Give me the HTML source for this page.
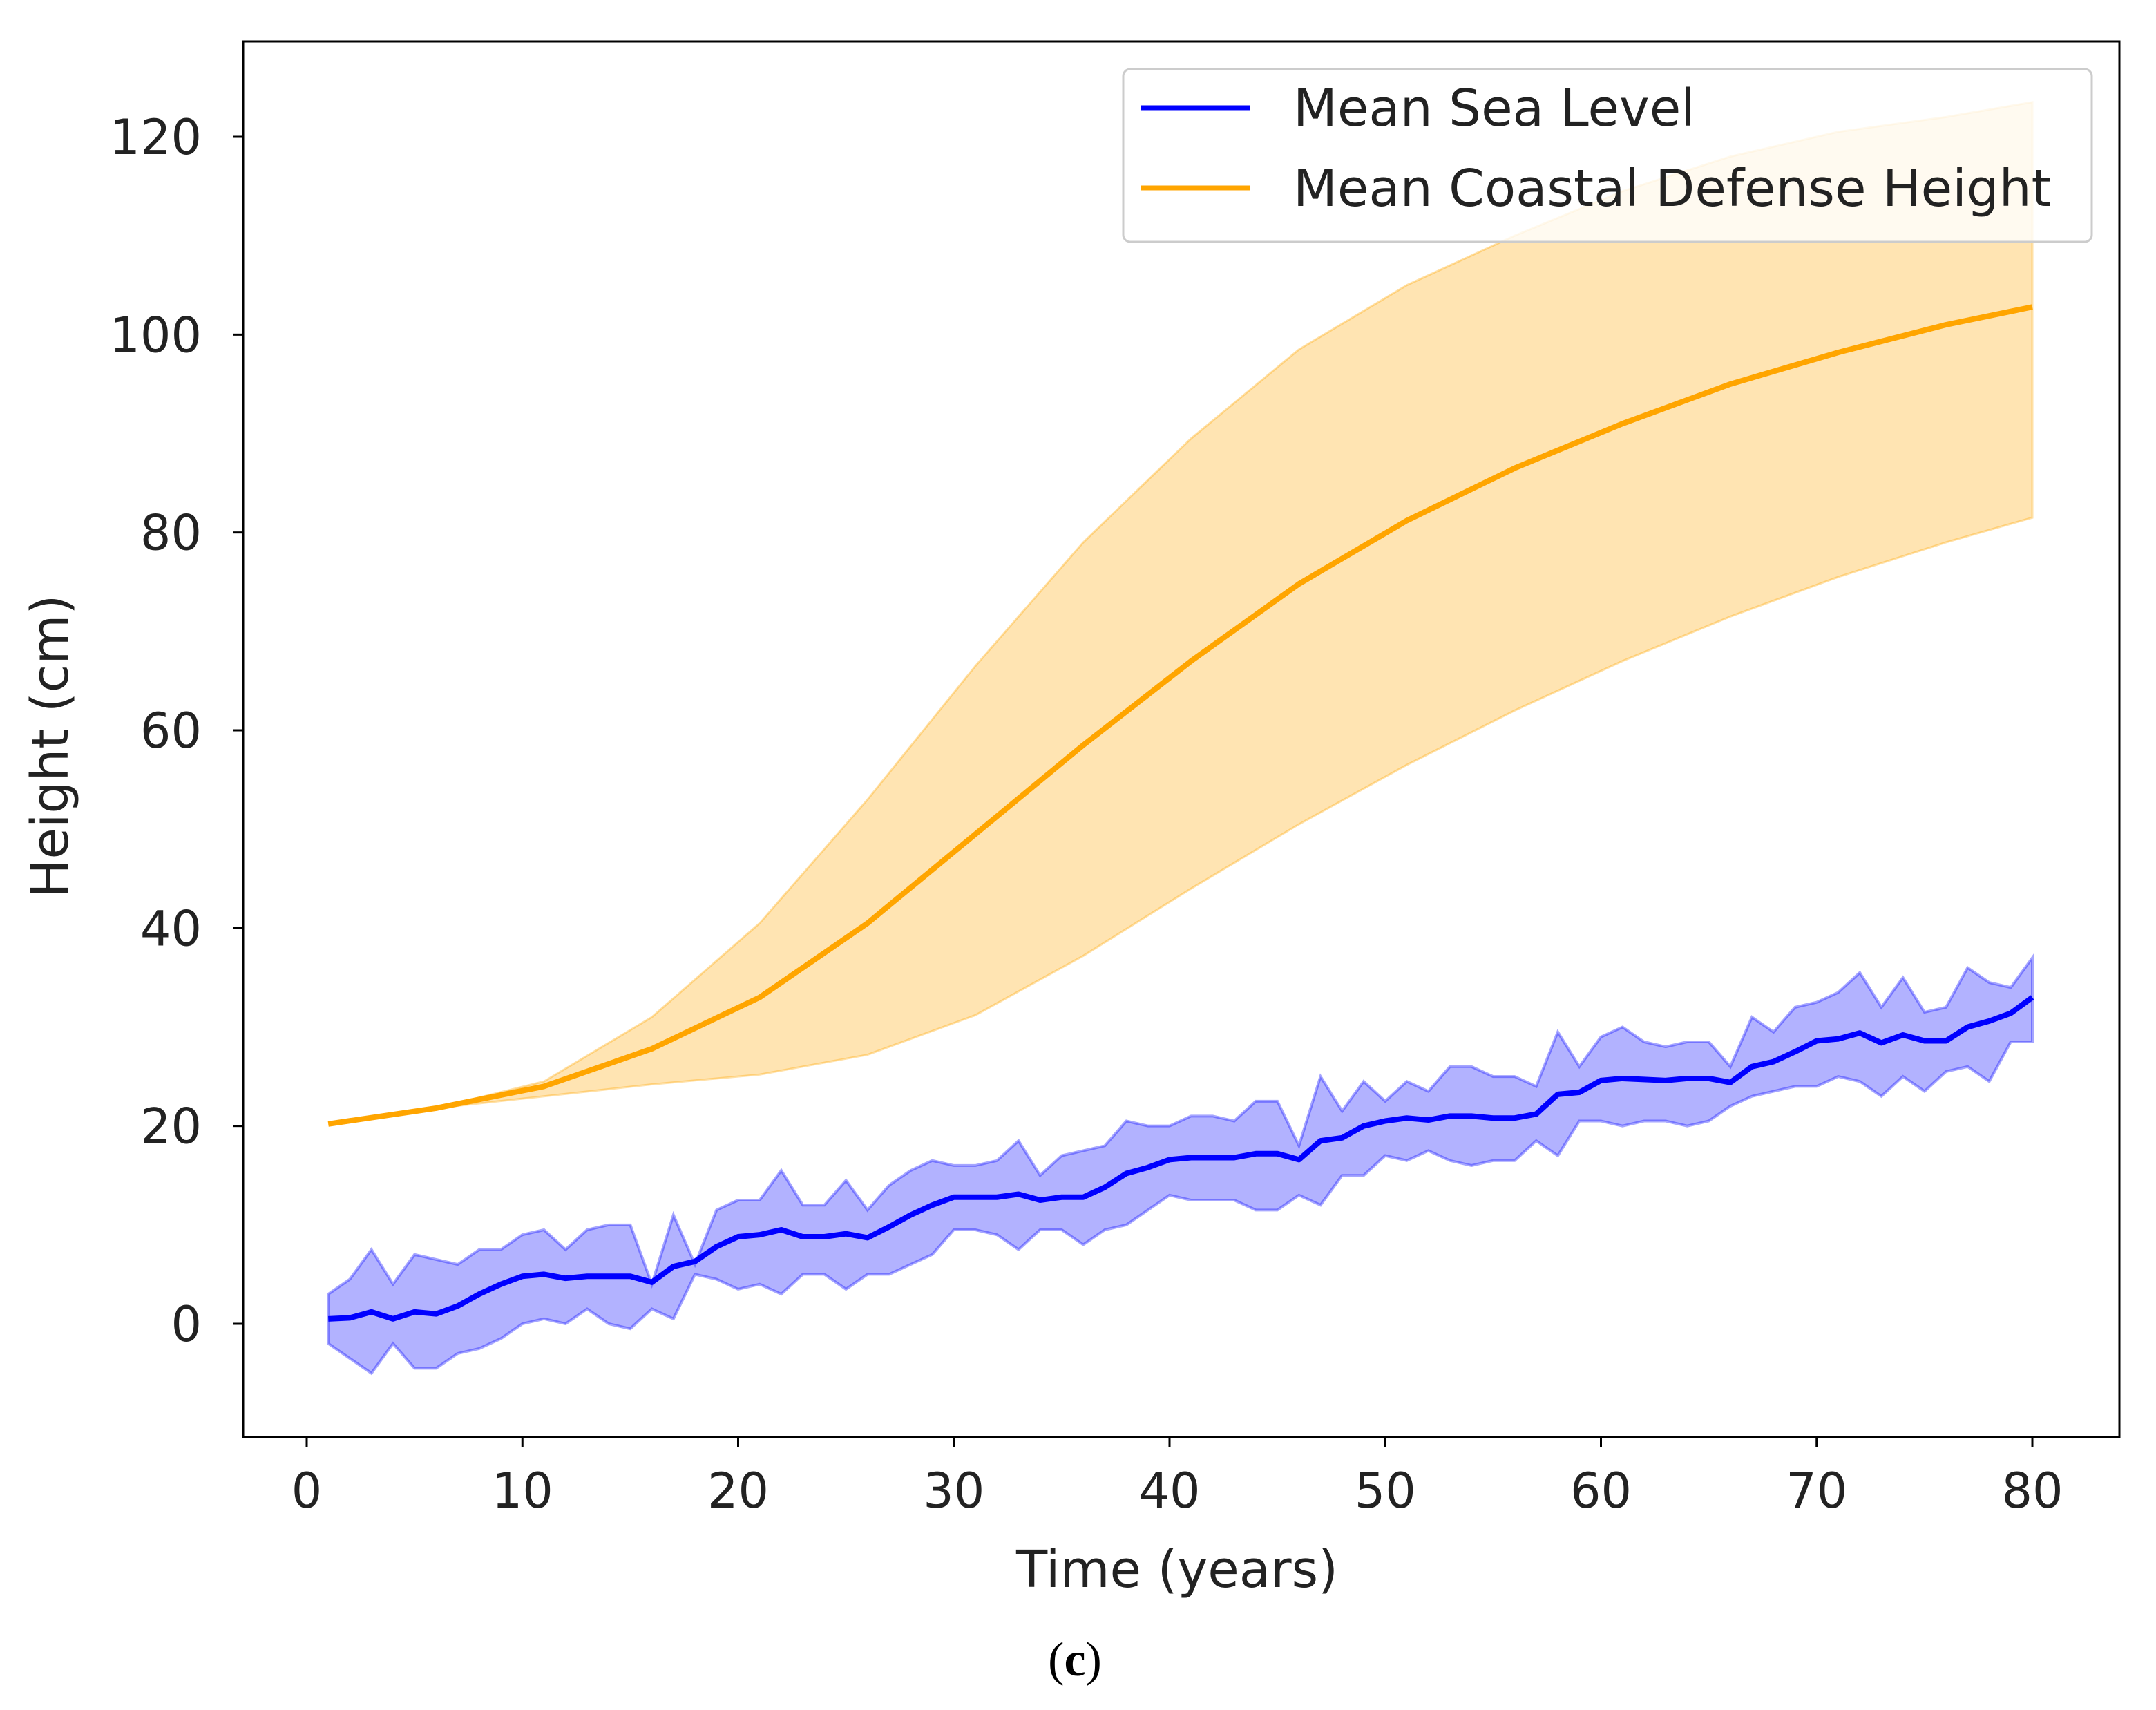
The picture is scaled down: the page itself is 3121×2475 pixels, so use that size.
<!DOCTYPE html>
<html><head><meta charset="utf-8"><style>
html,body{margin:0;padding:0;background:#fff;}
svg{display:block;font-family:"DejaVu Sans","Liberation Sans",sans-serif;}
</style></head><body>
<svg id="chart" width="3121" height="2475" viewBox="0 0 3121 2475" xmlns="http://www.w3.org/2000/svg">
<g id="bands"></g>
<g id="lines"></g>
<rect x="352" y="60" width="2716" height="2020" fill="none" stroke="#000" stroke-width="3"/>
<g id="xticks"></g>
<g id="yticks"></g>
<text x="1704" y="2297" font-size="74" text-anchor="middle" fill="#222">Time (years)</text>
<text x="98" y="1080" font-size="74" text-anchor="middle" fill="#222" transform="rotate(-90 98 1080)">Height (cm)</text>
<text x="1556" y="2425" font-size="70" text-anchor="middle" font-family="Liberation Serif, serif" fill="#000">(<tspan font-weight="bold">c</tspan>)</text>
<g>
<rect x="1626" y="100" width="1402" height="250" rx="10" fill="#fff" fill-opacity="0.8" stroke="#ccc" stroke-width="3"/>
<line x1="1652" y1="156" x2="1810" y2="156" stroke="#0000ff" stroke-width="7"/>
<text x="1872" y="182" font-size="74" fill="#222">Mean Sea Level</text>
<line x1="1652" y1="272" x2="1810" y2="272" stroke="#ffa500" stroke-width="7"/>
<text x="1872" y="298" font-size="74" fill="#222">Mean Coastal Defense Height</text>
</g>
</svg>
<script>
const seaMean=[0.5,0.6,1.2,0.5,1.2,1.0,1.8,3,4,4.8,5,4.6,4.8,4.8,4.8,4.2,5.8,6.3,7.8,8.8,9,9.5,8.8,8.8,9.1,8.7,9.8,11,12,12.8,12.8,12.8,13.1,12.5,12.8,12.8,13.8,15.2,15.8,16.6,16.8,16.8,16.8,17.2,17.2,16.6,18.5,18.8,20,20.5,20.8,20.6,21,21,20.8,20.8,21.2,23.2,23.4,24.6,24.8,24.7,24.6,24.8,24.8,24.4,26,26.5,27.5,28.6,28.8,29.4,28.4,29.2,28.6,28.6,30,30.6,31.4,33];
const seaUpper=[3,4.5,7.5,4,7,6.5,6,7.5,7.5,9,9.5,7.5,9.5,10,10,4,11,6,11.5,12.5,12.5,15.5,12,12,14.5,11.5,14,15.5,16.5,16,16,16.5,18.5,15,17,17.5,18,20.5,20,20,21,21,20.5,22.5,22.5,18,25,21.5,24.5,22.5,24.5,23.5,26,26,25,25,24,29.5,26,29,30,28.5,28,28.5,28.5,26,31,29.5,32,32.5,33.5,35.5,32,35,31.5,32,36,34.5,34,37];
const seaLower=[-2,-3.5,-5,-2,-4.5,-4.5,-3,-2.5,-1.5,0,0.5,0,1.5,0,-0.5,1.5,0.5,5,4.5,3.5,4,3,5,5,3.5,5,5,6,7,9.5,9.5,9,7.5,9.5,9.5,8,9.5,10,11.5,13,12.5,12.5,12.5,11.5,11.5,13,12,15,15,17,16.5,17.5,16.5,16,16.5,16.5,18.5,17,20.5,20.5,20,20.5,20.5,20,20.5,22,23,23.5,24,24,25,24.5,23,25,23.5,25.5,26,24.5,28.5,28.5];
const defYears=[1,6,11,16,21,26,31,36,41,46,51,56,61,66,71,76,80];
const defMean=[20.2,21.8,24,27.8,33,40.5,49.5,58.5,67,74.8,81.2,86.5,91,95,98.2,101,102.8];
const defUpper=[20.2,21.8,24.5,31,40.5,53,66.5,79,89.5,98.5,105,110,114.5,118,120.5,122,123.5];
const defLower=[20.2,21.8,23,24.2,25.2,27.2,31.2,37.2,44,50.5,56.5,62,67,71.5,75.5,79,81.5];
const xTicks=[0,10,20,30,40,50,60,70,80];
const yTicks=[0,20,40,60,80,100,120];

const NS="http://www.w3.org/2000/svg";
const X=v=>444+(2942-444)*v/80;
const Y=v=>1916-(1916-198)*v/120;
function mk(tag,attrs,parent){const e=document.createElementNS(NS,tag);for(const k in attrs)e.setAttribute(k,attrs[k]);parent.appendChild(e);return e;}
const seaYears=seaMean.map((_,i)=>i+1);
function bandPath(xs,up,lo){let d='M'+xs.map((x,i)=>X(x)+','+Y(up[i])).join('L');for(let i=xs.length-1;i>=0;i--)d+='L'+X(xs[i])+','+Y(lo[i]);return d+'Z';}
function linePath(xs,ys){return 'M'+xs.map((x,i)=>X(x)+','+Y(ys[i])).join('L');}
const bands=document.getElementById('bands'),lines=document.getElementById('lines');
let b=mk('path',{d:bandPath(defYears,defUpper,defLower),fill:'rgba(255,165,0,0.3)',stroke:'rgba(255,165,0,0.35)','stroke-width':3},bands);


b=mk('path',{d:bandPath(seaYears,seaUpper,seaLower),fill:'rgba(0,0,255,0.3)',stroke:'rgba(0,0,255,0.35)','stroke-width':4},bands);


let l=mk('path',{d:linePath(defYears,defMean),fill:'none',stroke:'#ffa500','stroke-width':8,'stroke-linejoin':'round'},lines);


l=mk('path',{d:linePath(seaYears,seaMean),fill:'none',stroke:'#0000ff','stroke-width':8,'stroke-linejoin':'round'},lines);


const xg=document.getElementById('xticks'),yg=document.getElementById('yticks');
xTicks.forEach(t=>{
 const tk=mk('line',{x1:X(t),x2:X(t),y1:2080,y2:2094,stroke:'#000','stroke-width':3},xg);
 
 
 const tx=mk('text',{x:X(t),y:2182,'font-size':70,'text-anchor':'middle',fill:'#222'},xg);
 tx.textContent=t;
 
 
});
yTicks.forEach(t=>{
 const tk=mk('line',{x1:338,x2:352,y1:Y(t),y2:Y(t),stroke:'#000','stroke-width':3},yg);
 
 
 const tx=mk('text',{x:292,y:Y(t)+25,'font-size':70,'text-anchor':'end',fill:'#222'},yg);
 tx.textContent=t;
 
 
});
</script>
</body></html>
